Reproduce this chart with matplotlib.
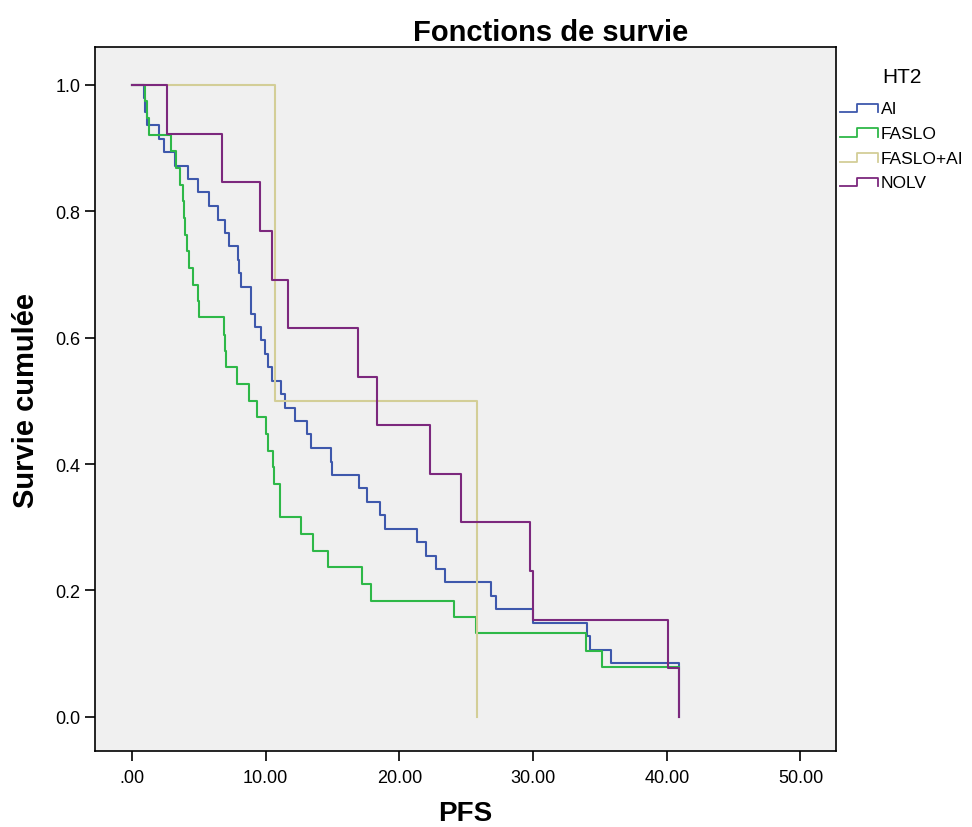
import matplotlib
matplotlib.use('Agg')
import matplotlib.pyplot as plt
from matplotlib.lines import Line2D
from matplotlib.legend_handler import HandlerBase

plt.rcParams['font.family'] = ['Liberation Sans', 'DejaVu Sans']

# temps (PFS) et survie cumulée
ai_t = [0, 0.9, 1.0, 1.1, 2.04, 2.39, 3.22, 4.17, 4.96, 5.74, 6.43, 6.98, 7.28, 7.95, 8.0,
        8.15, 8.88, 8.92, 9.18, 9.65, 9.95, 10.15, 10.49, 11.17, 11.47, 12.19, 13.07, 13.39,
        14.92, 14.96, 17.0, 17.6, 18.55, 18.92, 21.29, 21.99, 22.74, 23.41, 26.83, 27.23,
        29.97, 34.01, 34.26, 35.80, 40.93]
ai_s = [1.0, .979, .957, .936, .915, .894, .872, .851, .830, .809, .787, .766, .745, .723, .702,
        .681, .660, .638, .617, .596, .574, .553, .532, .511, .489, .468, .447, .426,
        .404, .383, .362, .340, .319, .298, .277, .255, .234, .213, .191, .170,
        .149, .128, .106, .085, 0.0]

faslo_t = [0, 0.97, 1.1, 1.29, 2.92, 3.29, 3.59, 3.85, 3.9, 3.95, 4.08, 4.3, 4.56, 4.95, 5.0,
           6.9, 6.95, 7.0, 7.88, 8.73, 9.35, 10.0, 10.19, 10.55, 10.6, 11.05, 11.1, 12.62,
           13.52, 14.64, 17.22, 17.88, 24.1, 25.71, 33.96, 35.18, 40.9]
faslo_s = [1.0, .974, .947, .921, .895, .868, .842, .816, .789, .763, .737, .711, .684, .658, .632,
           .605, .579, .553, .526, .500, .474, .447, .421, .395, .368, .342, .316, .289,
           .263, .237, .211, .184, .158, .132, .105, .079, .079]

fasloai_t = [0, 10.7, 25.78]
fasloai_s = [1.0, 0.5, 0.0]

nolv_t = [0, 2.64, 6.73, 9.57, 10.45, 11.65, 16.88, 18.35, 22.29, 24.58, 29.77, 30.02, 40.07, 40.89]
nolv_s = [1.0, .923, .846, .769, .692, .615, .538, .462, .385, .308, .231, .154, .077, 0.0]

groupes = ['AI', 'FASLO', 'FASLO+AI', 'NOLV']
couleurs = ['#3E58AC', '#2EB848', '#D3CE97', '#7C287D']
series = [(ai_t, ai_s), (faslo_t, faslo_s), (fasloai_t, fasloai_s), (nolv_t, nolv_s)]


class HandlerEscalier(HandlerBase):
    # petit symbole en marche d'escalier comme dans SPSS
    def create_artists(self, legend, orig_handle, xdescent, ydescent, width, height, fontsize, trans):
        x0, x1 = -xdescent, -xdescent + width
        y0, y1 = -ydescent + 0.1 * height, -ydescent + 0.8 * height
        xs = [x0, x0 + 0.45 * width, x0 + 0.45 * width, x1, x1]
        ys = [y0, y0, y1, y1, y0]
        ln = Line2D(xs, ys, color=orig_handle.get_color(), lw=1.3, transform=trans)
        return [ln]


fig = plt.figure(figsize=(9.72, 8.28), dpi=100)
ax = fig.add_axes([0.0977, 0.0918, 0.7623, 0.8502])
ax.set_facecolor('#F0F0F0')

handles = []
for nom, coul, (t, s) in zip(groupes, couleurs, series):
    h, = ax.step(t, s, where='post', color=coul, lw=1.5, label=nom)
    handles.append(h)

ax.set_xlim(-2.77, 52.65)
ax.set_ylim(-0.054, 1.06)
ax.set_xticks([0, 10, 20, 30, 40, 50])
ax.set_xticklabels(['.00', '10.00', '20.00', '30.00', '40.00', '50.00'])
ax.set_yticks([0, 0.2, 0.4, 0.6, 0.8, 1.0])
ax.set_yticklabels(['0.0', '0.2', '0.4', '0.6', '0.8', '1.0'])
ax.tick_params(direction='out', length=7, width=1.2, labelsize=13, colors='black')
ax.tick_params(axis='x', pad=6)
for sp in ax.spines.values():
    sp.set_linewidth(1.2)

ax.set_title('Fonctions de survie', fontsize=21, fontweight='bold', pad=5, x=0.615)
ax.set_xlabel('PFS', fontsize=20, fontweight='bold', labelpad=10)
ax.set_ylabel('Survie cumulée', fontsize=21, fontweight='bold', labelpad=11)

leg = fig.legend(handles=handles, labels=groupes, title='HT2', loc='upper left',
                 bbox_to_anchor=(0.864, 0.918), frameon=False, fontsize=12.5,
                 title_fontsize=15, handlelength=2.2, handletextpad=0.15,
                 labelspacing=0.55, borderpad=0, borderaxespad=0,
                 handler_map={Line2D: HandlerEscalier()})
leg._legend_box.sep = 11

fig.savefig('out.png', dpi=100)
